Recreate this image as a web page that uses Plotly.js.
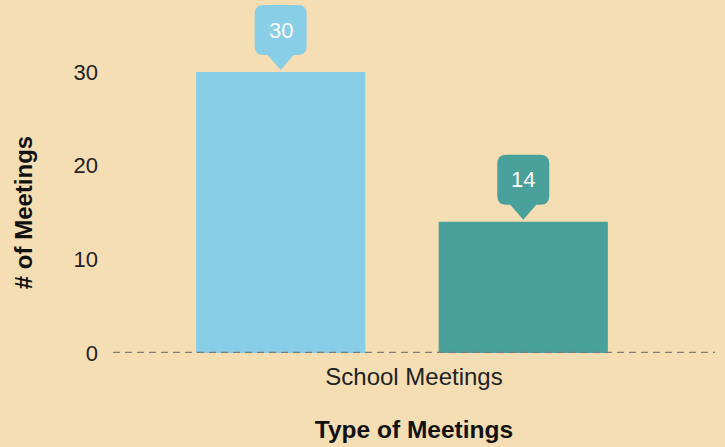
<!DOCTYPE html>
<html>
<head>
<meta charset="utf-8">
<script src="https://cdn.plot.ly/plotly-3.0.1.min.js"></script>
<style>html,body{margin:0;padding:0;background:#F5DEB3;}#chart{width:725px;height:447px;}</style>
</head>
<body>
<div id="chart"></div>
<script>
// ---- data ----
const category = ["School Meetings"];
const seriesNames = ["Meetings A", "Meetings B"];
const seriesValues = [30, 14];
const yTickVals = [0, 10, 20, 30];
const xTitle = "Type of Meetings";
const yTitle = "# of Meetings";

// ---- styles ----
const colors = ["#87CEE6", "#4AA09A"];
const barWidth = 0.281;
const barOffsets = [-0.362, 0.041];
const yMax = 30;
const bg = "#F5DEB3";
const font = "'Liberation Sans', Arial, sans-serif";

const traces = seriesValues.map((v, i) => ({
  type: "bar",
  name: seriesNames[i],
  x: category,
  y: [v],
  width: [barWidth],
  offset: [barOffsets[i]],
  marker: {color: colors[i]},
  hoverinfo: "none",
  showlegend: false
}));

// callout path (pixels, relative to bar top centre, +y up)
const calloutPath = "M 0 2 L -13 17 L -17 17 Q -26 17 -26 26 L -26 58 Q -26 67 -17 67 L 17 67 Q 26 67 26 58 L 26 26 Q 26 17 17 17 L 13 17 Z";

const shapes = [];
const annotations = [];
seriesValues.forEach((v, i) => {
  const xc = barOffsets[i] + barWidth / 2;
  shapes.push({
    type: "path", xref: "x", yref: "paper",
    xsizemode: "pixel", ysizemode: "pixel",
    xanchor: xc, yanchor: v / yMax,
    path: calloutPath,
    fillcolor: colors[i], line: {width: 0}, layer: "above"
  });
  annotations.push({
    xref: "x", yref: "paper", x: xc, y: v / yMax,
    yshift: 42, showarrow: false, text: String(v),
    font: {family: font, size: 22, color: "#ffffff"},
    xanchor: "center", yanchor: "middle"
  });
});
// dashed zero line
shapes.push({
  type: "line", xref: "paper", yref: "y", x0: 0, x1: 1, y0: 0, y1: 0,
  line: {color: "#837c70", width: 2.5, dash: "7px,5px"}, layer: "above"
});

const layout = {
  width: 725, height: 447,
  paper_bgcolor: bg, plot_bgcolor: bg,
  margin: {l: 113, r: 10, t: 72, b: 94},
  barmode: "group",
  font: {family: font, color: "#222"},
  xaxis: {
    type: "category", range: [-0.5, 0.5], autorange: false,
    showgrid: false, zeroline: false, showline: false, ticks: "",
    tickfont: {size: 24, color: "#222"},
    ticklabelstandoff: 7,
    title: {text: xTitle, font: {size: 24.5, color: "#111", weight: "bold"}, standoff: 31}
  },
  yaxis: {
    range: [0, yMax], autorange: false,
    tickvals: yTickVals, showgrid: false, zeroline: false, showline: false, ticks: "",
    tickfont: {size: 22, color: "#222"},
    ticklabelstandoff: 14,
    title: {text: yTitle, font: {size: 24, color: "#111", weight: "bold"}, standoff: 34}
  },
  shapes: shapes,
  annotations: annotations
};

Plotly.newPlot("chart", traces, layout, {displayModeBar: false, staticPlot: true});
</script>
</body>
</html>
